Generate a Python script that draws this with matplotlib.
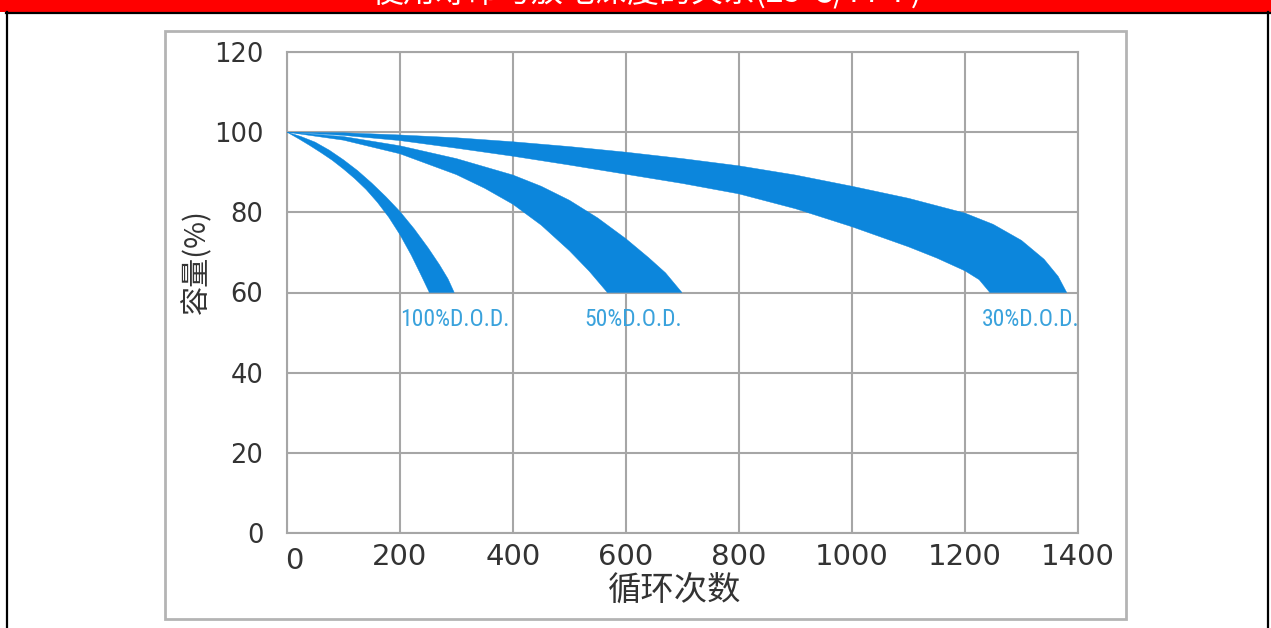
import matplotlib
matplotlib.use("Agg")
import matplotlib.pyplot as plt
from matplotlib import font_manager
from matplotlib.patches import Rectangle
from matplotlib.lines import Line2D
from matplotlib.transforms import ScaledTranslation

plt.rcParams['font.family'] = ['DejaVu Sans', 'Noto Sans CJK SC']

# cycles vs capacity (%) along both edges of each band
dod100_inner_x = [0, 20, 40, 60, 80, 100, 120, 140, 160, 180, 200, 220, 236, 252]
dod100_inner_y = [100, 98.4, 96.7, 94.9, 93.0, 90.8, 88.4, 85.7, 82.5, 78.8, 74.4, 69.3, 64.7, 60]
dod100_outer_x = [0, 25, 50, 75, 100, 125, 150, 175, 200, 225, 250, 270, 285, 296]
dod100_outer_y = [100, 98.9, 97.5, 95.5, 93.1, 90.4, 87.3, 83.9, 80.2, 75.9, 71.1, 66.9, 63.4, 60]

dod50_inner_x = [0, 100, 200, 300, 350, 400, 450, 500, 535, 567]
dod50_inner_y = [100, 98.0, 94.6, 89.4, 86.0, 82.0, 76.8, 70.4, 65.3, 60]
dod50_outer_x = [0, 100, 200, 300, 400, 450, 500, 550, 600, 640, 670, 699]
dod50_outer_y = [100, 98.9, 96.6, 93.4, 89.3, 86.5, 83.0, 78.6, 73.4, 68.7, 64.9, 60]

dod30_inner_x = [0, 100, 200, 300, 400, 500, 600, 700, 800, 900, 1000, 1100, 1150, 1200, 1225, 1244]
dod30_inner_y = [100, 99.2, 97.9, 96.0, 94.0, 91.8, 89.5, 87.2, 84.6, 80.9, 76.4, 71.4, 68.6, 65.4, 63.2, 60]
dod30_outer_x = [0, 100, 200, 300, 400, 500, 600, 700, 800, 900, 1000, 1100, 1200, 1250, 1300, 1340, 1365, 1380]
dod30_outer_y = [100, 99.85, 99.3, 98.6, 97.6, 96.4, 95.0, 93.4, 91.6, 89.3, 86.5, 83.5, 79.8, 77.0, 73.0, 68.3, 64.0, 60]

labels = ["100%D.O.D.", "50%D.O.D.", "30%D.O.D."]
x_ticks = [0, 200, 400, 600, 800, 1000, 1200, 1400]
y_ticks = [0, 20, 40, 60, 80, 100, 120]

band_color = "#0c86dc"
text_color = "#3aa2dc"
grid_color = "#a6a6a6"


def pick_narrow():
    for fam in ["Liberation Sans Narrow", "DejaVu Sans Condensed", "Roboto Condensed"]:
        try:
            font_manager.findfont(font_manager.FontProperties(family=fam),
                                  fallback_to_default=False)
            return fam, 17
        except ValueError:
            pass
    return "DejaVu Sans", 14


narrow_family, narrow_size = pick_narrow()

fig = plt.figure(figsize=(12.71, 6.28), dpi=100)
H = 628.0
W = 1271.0

# banner + frames
fig.add_artist(Rectangle((0, 1 - 12 / H), 1, 12 / H, transform=fig.transFigure,
                         facecolor="#ff0000", edgecolor="none"))
fig.add_artist(Line2D([6 / W, 1], [1 - 12.5 / H] * 2, transform=fig.transFigure,
                      color="black", lw=1.6))
fig.add_artist(Line2D([6.5 / W] * 2, [0, 1 - 12 / H], transform=fig.transFigure,
                      color="black", lw=1.6))
fig.add_artist(Line2D([1267.5 / W] * 2, [0, 1 - 12 / H], transform=fig.transFigure,
                      color="black", lw=1.6))
fig.add_artist(Rectangle((165 / W, 1 - 619 / H), (1126 - 165) / W, (619 - 31) / H,
                         transform=fig.transFigure, facecolor="none",
                         edgecolor="#b4b4b4", lw=2))
fig.text(647 / W, 1 - 9 / H, "使用寿命与放电深度的关系(25℃/77°F)", color="white",
         fontsize=23, ha="center", va="bottom",
         family=["Noto Sans CJK SC", "DejaVu Sans"])

ax = fig.add_axes([287 / W, 95 / H, (1078 - 287) / W, (533 - 52) / H])

bands = [
    (dod100_inner_x, dod100_inner_y, dod100_outer_x, dod100_outer_y),
    (dod50_inner_x, dod50_inner_y, dod50_outer_x, dod50_outer_y),
    (dod30_inner_x, dod30_inner_y, dod30_outer_x, dod30_outer_y),
]
for ix, iy, ox, oy in bands:
    px = list(ox) + list(ix[::-1])
    py = list(oy) + list(iy[::-1])
    ax.fill(px, py, color=band_color, lw=0.3, ec=band_color, zorder=3)

lab_font = dict(color=text_color, fontsize=narrow_size, va="center", zorder=4,
                family=[narrow_family, "DejaVu Sans"])
ax.text(200, 53.3, labels[0], ha="left", **lab_font)
ax.text(527, 53.3, labels[1], ha="left", **lab_font)
ax.text(1402, 53.3, labels[2], ha="right", **lab_font)

ax.set_xlim(0, 1400)
ax.set_ylim(0, 120)
ax.set_xticks(x_ticks)
ax.set_yticks(y_ticks)
ax.grid(True, color=grid_color, lw=1.5, zorder=1)
ax.tick_params(axis="both", length=0, colors="#333333")
ax.tick_params(axis="x", labelsize=21, pad=7)
ax.tick_params(axis="y", labelsize=18.5, pad=17)
for s in ax.spines.values():
    s.set_color(grid_color)
    s.set_linewidth(1.5)

# the "0" under the origin sits a little right and lower in the original
zero_lbl = ax.xaxis.get_major_ticks()[0].label1
zero_lbl.set_transform(zero_lbl.get_transform()
                       + ScaledTranslation(7 / 100, -4 / 100, fig.dpi_scale_trans))

ax.set_xlabel("循环次数", fontsize=24, color="#333333",
              family=["Noto Sans CJK SC", "DejaVu Sans"])
ax.xaxis.set_label_coords((675 - 287) / 791, -(590 - 533) / 481)
ax.set_ylabel("容量(%)", fontsize=21, color="#333333",
              family=["Noto Sans CJK SC", "DejaVu Sans"])
ax.yaxis.set_label_coords((197 - 287) / 791, (533 - 262) / 481)
ax.xaxis.label.set_va("center")
ax.yaxis.label.set_va("center")

fig.savefig("out.png", dpi=100)
